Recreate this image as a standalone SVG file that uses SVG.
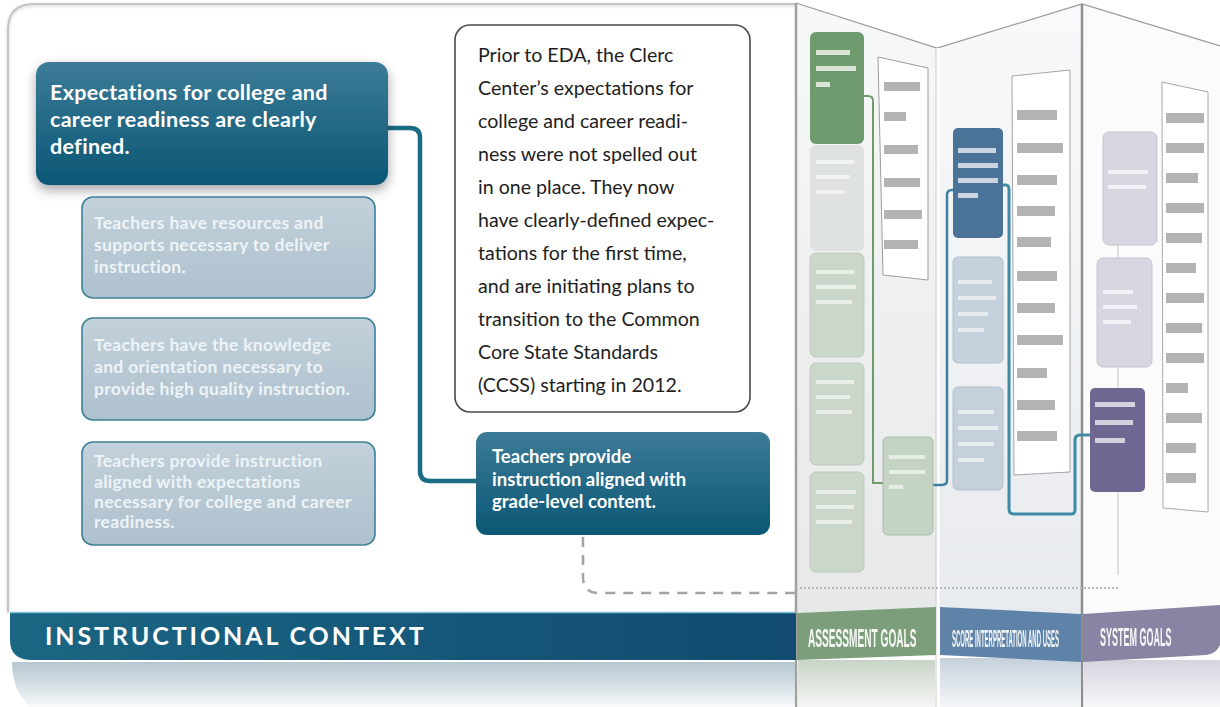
<svg xmlns="http://www.w3.org/2000/svg" width="1220" height="707" viewBox="0 0 1220 707">
<defs>
<style>
.main{font-family:Lato,"Liberation Sans",sans-serif;font-weight:700;fill:#ffffff}
.fade{font-family:Lato,"Liberation Sans",sans-serif;font-weight:700;fill:#eef3f6;font-size:17.5px;letter-spacing:.3px}
.body{font-family:Lato,"Liberation Sans",sans-serif;font-weight:400;fill:#1e1e1e;font-size:19.6px}
.lbl{font-family:"Liberation Sans",Lato,sans-serif;font-weight:700;fill:#ffffff;opacity:.93}
.fbox{fill:url(#fadeG);stroke:#3e8196;stroke-width:1.6}
.tl{fill:#6a6a6a;opacity:.5}
.wl{fill:#ffffff;opacity:.75}
</style>
<linearGradient id="tealG" x1="0" y1="0" x2="0" y2="1">
<stop offset="0" stop-color="#3c7b97"/><stop offset="1" stop-color="#0b5775"/>
</linearGradient>
<linearGradient id="fadeG" x1="0" y1="0" x2="0" y2="1">
<stop offset="0" stop-color="#c2d1db"/><stop offset="1" stop-color="#aec1ce"/>
</linearGradient>
<linearGradient id="bandG" x1="0" y1="0" x2="1" y2="0">
<stop offset="0" stop-color="#1a6683"/><stop offset="1" stop-color="#114b70"/>
</linearGradient>
<linearGradient id="reflG" x1="0" y1="0" x2="0" y2="1">
<stop offset="0" stop-color="#a7bcc7"/><stop offset="1" stop-color="#f6f8f9"/>
</linearGradient>
<linearGradient id="p1G" x1="0" y1="0" x2="0" y2="1">
<stop offset="0" stop-color="#f7f8f8"/><stop offset="1" stop-color="#e6e9e8"/>
</linearGradient>
<linearGradient id="p2G" x1="0" y1="0" x2="0" y2="1">
<stop offset="0" stop-color="#f8f9fa"/><stop offset="1" stop-color="#e8ebee"/>
</linearGradient>
<linearGradient id="r1G" x1="0" y1="0" x2="0" y2="1">
<stop offset="0" stop-color="#c9d4c8"/><stop offset="1" stop-color="#f4f6f4"/>
</linearGradient>
<linearGradient id="r2G" x1="0" y1="0" x2="0" y2="1">
<stop offset="0" stop-color="#c6d1dc"/><stop offset="1" stop-color="#f4f6f8"/>
</linearGradient>
<linearGradient id="r3G" x1="0" y1="0" x2="0" y2="1">
<stop offset="0" stop-color="#d6d3de"/><stop offset="1" stop-color="#f7f7f9"/>
</linearGradient>
<filter id="sh" x="-20%" y="-20%" width="140%" height="150%">
<feDropShadow dx="0" dy="5" stdDeviation="6" flood-color="#000" flood-opacity=".35"/>
</filter>
<filter id="sh2" x="-5%" y="-5%" width="110%" height="110%">
<feDropShadow dx="0" dy="1" stdDeviation="1.5" flood-color="#000" flood-opacity=".2"/>
</filter>
</defs>

<rect width="1220" height="707" fill="#ffffff"/>

<!-- main panel -->
<g id="main-panel">
<path d="M8,612 V30 Q8,4 34,4 H796" fill="none" stroke="#c4c4c4" stroke-width="2" filter="url(#sh2)"/>
</g>

<!-- folded panels background -->
<g id="fold-panels">
<polygon points="796,3 937,48 937,608 796,613" fill="url(#p1G)"/>
<polygon points="937,48 1082,4 1082,614 937,607" fill="url(#p2G)"/>
<polygon points="1082,4 1220,46 1220,606 1082,614" fill="#fbfbfb"/>
<polyline points="796,3 937,48 1082,4 1220,46" fill="none" stroke="#9a9a9a" stroke-width="1.2"/>
<line x1="796" y1="3" x2="796" y2="707" stroke="#a0a0a0" stroke-width="2.5"/>
<line x1="938" y1="48" x2="938" y2="707" stroke="#ffffff" stroke-width="3"/>
<line x1="936" y1="48" x2="936" y2="707" stroke="#c9cccc" stroke-width="1"/>
<line x1="1082" y1="4" x2="1082" y2="707" stroke="#8e8e8e" stroke-width="2.5"/>
</g>

<!-- reflections -->
<g id="reflections">
<path d="M12,662 H795 V707 H30 Q12,690 12,662 Z" fill="url(#reflG)" opacity=".85"/>
<rect x="798" y="660" width="137" height="47" fill="url(#r1G)"/>
<rect x="940" y="658" width="141" height="49" fill="url(#r2G)"/>
<rect x="1084" y="660" width="136" height="47" fill="url(#r3G)"/>
</g>

<!-- connectors -->
<g id="connectors" fill="none">
<path d="M388,128 H410 Q420,128 420,138 V471 Q420,481 430,481 H477" stroke="#1a6c84" stroke-width="4.5"/>
<path d="M583,537 V577 Q583,593 599,593 H796" stroke="#a3a3a3" stroke-width="2.5" stroke-dasharray="10 8"/>
<path d="M796,588 H1118" stroke="#b4b9bc" stroke-width="2" stroke-dasharray="2 2"/>
<path d="M864,96 H868 Q873,96 873,101 V483 H883" stroke="#6f9a6e" stroke-width="2"/>
<path d="M933,485 H942 Q947,485 947,480 V195 Q947,190 952,190 H953" stroke="#3f7fa0" stroke-width="2.5"/>
<path d="M1003,185 H1006 Q1009,185 1009,190 V509 Q1009,514 1014,514 H1071 Q1075,514 1075,510 V440 Q1075,435 1080,435 H1090" stroke="#3f8aa6" stroke-width="3"/>
<path d="M1118,245 V575" stroke="#c2c2c2" stroke-width="1"/>
</g>

<!-- panel 1: assessment goals -->
<g id="assessment-goals">
<rect x="810" y="32" width="54" height="112" rx="6" fill="#6f9a6e"/>
<rect x="816" y="50" width="34" height="5" class="wl"/><rect x="816" y="66" width="40" height="5" class="wl"/><rect x="816" y="82" width="14" height="5" class="wl"/>
<rect x="810" y="145" width="54" height="106" rx="6" fill="#dfe2e3"/>
<rect x="810" y="253" width="54" height="104" rx="6" fill="#cbd7ca" stroke="#bccabb"/>
<rect x="810" y="363" width="54" height="102" rx="6" fill="#cbd7ca" stroke="#bccabb"/>
<rect x="810" y="472" width="54" height="100" rx="6" fill="#cbd7ca" stroke="#bccabb"/>
<g fill="#ffffff" opacity=".6">
<rect x="816" y="160" width="38" height="4"/><rect x="816" y="175" width="34" height="4"/><rect x="816" y="190" width="28" height="4"/>
<rect x="816" y="270" width="38" height="4"/><rect x="816" y="285" width="40" height="4"/><rect x="816" y="300" width="36" height="4"/>
<rect x="816" y="380" width="38" height="4"/><rect x="816" y="395" width="34" height="4"/><rect x="816" y="410" width="36" height="4"/>
<rect x="816" y="490" width="40" height="4"/><rect x="816" y="505" width="38" height="4"/><rect x="816" y="520" width="36" height="4"/>
</g>
<polygon points="878,57 928,68 928,280 883,275" fill="#ffffff" stroke="#9c9c9c" stroke-width="1"/>
<rect x="884" y="82" width="36" height="9" class="tl"/><rect x="884" y="112" width="22" height="9" class="tl"/><rect x="884" y="145" width="34" height="9" class="tl"/><rect x="884" y="178" width="36" height="9" class="tl"/><rect x="884" y="210" width="38" height="9" class="tl"/><rect x="884" y="240" width="34" height="9" class="tl"/>
<rect x="883" y="437" width="50" height="98" rx="5" fill="#c5d3c4" stroke="#a9bba8"/>
<g fill="#ffffff" opacity=".6"><rect x="889" y="455" width="36" height="4"/><rect x="889" y="470" width="36" height="4"/><rect x="889" y="485" width="14" height="4"/></g>
</g>

<!-- panel 2: score interpretation -->
<g id="score-interpretation">
<rect x="953" y="128" width="50" height="110" rx="5" fill="#4b7398"/>
<g fill="#ffffff" opacity=".7"><rect x="958" y="148" width="38" height="5"/><rect x="958" y="163" width="40" height="5"/><rect x="958" y="178" width="40" height="5"/><rect x="958" y="193" width="20" height="5"/></g>
<rect x="953" y="257" width="50" height="106" rx="5" fill="#c5d1dc" stroke="#b3c1cd"/>
<rect x="953" y="387" width="50" height="103" rx="5" fill="#c5d0da" stroke="#b3c1cd"/>
<g fill="#ffffff" opacity=".6"><rect x="958" y="280" width="34" height="4"/><rect x="958" y="296" width="38" height="4"/><rect x="958" y="312" width="30" height="4"/><rect x="958" y="328" width="26" height="4"/>
<rect x="958" y="410" width="36" height="4"/><rect x="958" y="426" width="40" height="4"/><rect x="958" y="442" width="36" height="4"/><rect x="958" y="458" width="26" height="4"/></g>
<polygon points="1012,76 1070,70 1070,472 1014,475" fill="#ffffff" stroke="#a4a4a4" stroke-width="1"/>
<g class="tl"><rect x="1017" y="110" width="40" height="10"/><rect x="1017" y="143" width="46" height="10"/><rect x="1017" y="175" width="40" height="10"/><rect x="1017" y="206" width="38" height="10"/><rect x="1017" y="237" width="34" height="10"/><rect x="1017" y="271" width="40" height="10"/><rect x="1017" y="303" width="38" height="10"/><rect x="1017" y="335" width="46" height="10"/><rect x="1017" y="368" width="30" height="10"/><rect x="1017" y="400" width="38" height="10"/><rect x="1017" y="431" width="40" height="10"/></g>
</g>

<!-- panel 3: system goals -->
<g id="system-goals">
<rect x="1103" y="132" width="54" height="113" rx="6" fill="#d9d6e1" stroke="#c8c4d2"/>
<rect x="1097" y="258" width="55" height="109" rx="6" fill="#d9d6e1" stroke="#c8c4d2"/>
<g fill="#ffffff" opacity=".7"><rect x="1108" y="170" width="40" height="4"/><rect x="1108" y="185" width="38" height="4"/><rect x="1103" y="290" width="30" height="4"/><rect x="1103" y="305" width="34" height="4"/><rect x="1103" y="320" width="28" height="4"/></g>
<rect x="1090" y="388" width="55" height="104" rx="5" fill="#6f6791"/>
<g fill="#ffffff" opacity=".7"><rect x="1095" y="402" width="40" height="5"/><rect x="1095" y="420" width="38" height="5"/><rect x="1095" y="438" width="30" height="5"/></g>
<polygon points="1162,82 1208,92 1208,512 1163,508" fill="#ffffff" stroke="#a8a8a8" stroke-width="1"/>
<g class="tl"><rect x="1166" y="113" width="38" height="10"/><rect x="1166" y="143" width="38" height="10"/><rect x="1166" y="173" width="32" height="10"/><rect x="1166" y="203" width="38" height="10"/><rect x="1166" y="233" width="36" height="10"/><rect x="1166" y="263" width="30" height="10"/><rect x="1166" y="293" width="38" height="10"/><rect x="1166" y="323" width="36" height="10"/><rect x="1166" y="353" width="38" height="10"/><rect x="1166" y="383" width="22" height="10"/><rect x="1166" y="413" width="36" height="10"/><rect x="1166" y="443" width="30" height="10"/><rect x="1166" y="473" width="30" height="10"/></g>
</g>

<!-- bottom bands -->
<g id="band-instructional">
<path d="M10,612 H796 V660 H32 Q10,660 10,640 Z" fill="url(#bandG)"/>
<line x1="10" y1="612.5" x2="796" y2="612.5" stroke="#7fc0d3" stroke-width="1.5"/>
<text x="45" y="645" class="main" font-size="25" letter-spacing="2.9">INSTRUCTIONAL CONTEXT</text>
</g>
<g id="band-assessment">
<polygon points="797,613 936,607 936,655 797,660" fill="#7c9e7a"/>
<text class="lbl" font-size="25" transform="translate(808,647) scale(0.405,1)">ASSESSMENT GOALS</text>
</g>
<g id="band-score">
<polygon points="940,607 1081,614 1081,662 940,655" fill="#5f83a8"/>
<text class="lbl" font-size="23.5" transform="translate(952,647) scale(0.255,1)">SCORE INTERPRETATION AND USES</text>
</g>
<g id="band-system">
<path d="M1083,614 L1220,605 V645 Q1216,654 1206,655 L1083,662 Z" fill="#8b83a4"/>
<text class="lbl" font-size="25" transform="translate(1100,646) scale(0.36,1)">SYSTEM GOALS</text>
</g>

<!-- nodes -->
<g id="node-expectations">
<rect x="36" y="62" width="352" height="123" rx="13" fill="url(#tealG)" filter="url(#sh)"/>
<text class="main" font-size="21.5" letter-spacing=".3"><tspan x="50" y="100">Expectations for college and</tspan><tspan x="50" y="127">career readiness are clearly</tspan><tspan x="50" y="154">defined.</tspan></text>
</g>

<g id="node-resources">
<rect x="82" y="197" width="293" height="101" rx="11" class="fbox"/>
<text class="fade"><tspan x="94" y="229">Teachers  have resources  and</tspan><tspan x="94" y="251">supports necessary to deliver</tspan><tspan x="94" y="273">instruction.</tspan></text>
</g>

<g id="node-knowledge">
<rect x="82" y="318" width="293" height="102" rx="11" class="fbox"/>
<text class="fade"><tspan x="94" y="351">Teachers have the knowledge</tspan><tspan x="94" y="373">and orientation necessary to</tspan><tspan x="94" y="395">provide high quality instruction.</tspan></text>
</g>

<g id="node-aligned-expectations">
<rect x="82" y="442" width="293" height="103" rx="11" class="fbox"/>
<text class="fade"><tspan x="94" y="467">Teachers provide instruction</tspan><tspan x="94" y="488">aligned with expectations</tspan><tspan x="94" y="508">necessary for college and career</tspan><tspan x="94" y="528">readiness.</tspan></text>
</g>

<g id="node-note">
<rect x="455" y="25" width="295" height="387" rx="15" fill="#ffffff" stroke="#4a4a4a" stroke-width="1.6"/>
<text class="body"><tspan x="478" y="62">Prior to EDA, the Clerc</tspan><tspan x="478" y="95">Center’s expectations for</tspan><tspan x="478" y="128">college and career readi-</tspan><tspan x="478" y="161">ness were not spelled out</tspan><tspan x="478" y="194">in one place. They now</tspan><tspan x="478" y="227">have clearly-defined expec-</tspan><tspan x="478" y="260">tations for the first time,</tspan><tspan x="478" y="293">and are initiating plans to</tspan><tspan x="478" y="326">transition to the Common</tspan><tspan x="478" y="359">Core State Standards</tspan><tspan x="478" y="392">(CCSS) starting in 2012.</tspan></text>
</g>

<g id="node-grade-level">
<rect x="476" y="432" width="294" height="103" rx="11" fill="url(#tealG)"/>
<text class="main" font-size="18.5"><tspan x="492" y="463">Teachers provide</tspan><tspan x="492" y="486">instruction aligned with</tspan><tspan x="492" y="508">grade-level content.</tspan></text>
</g>
</svg>
